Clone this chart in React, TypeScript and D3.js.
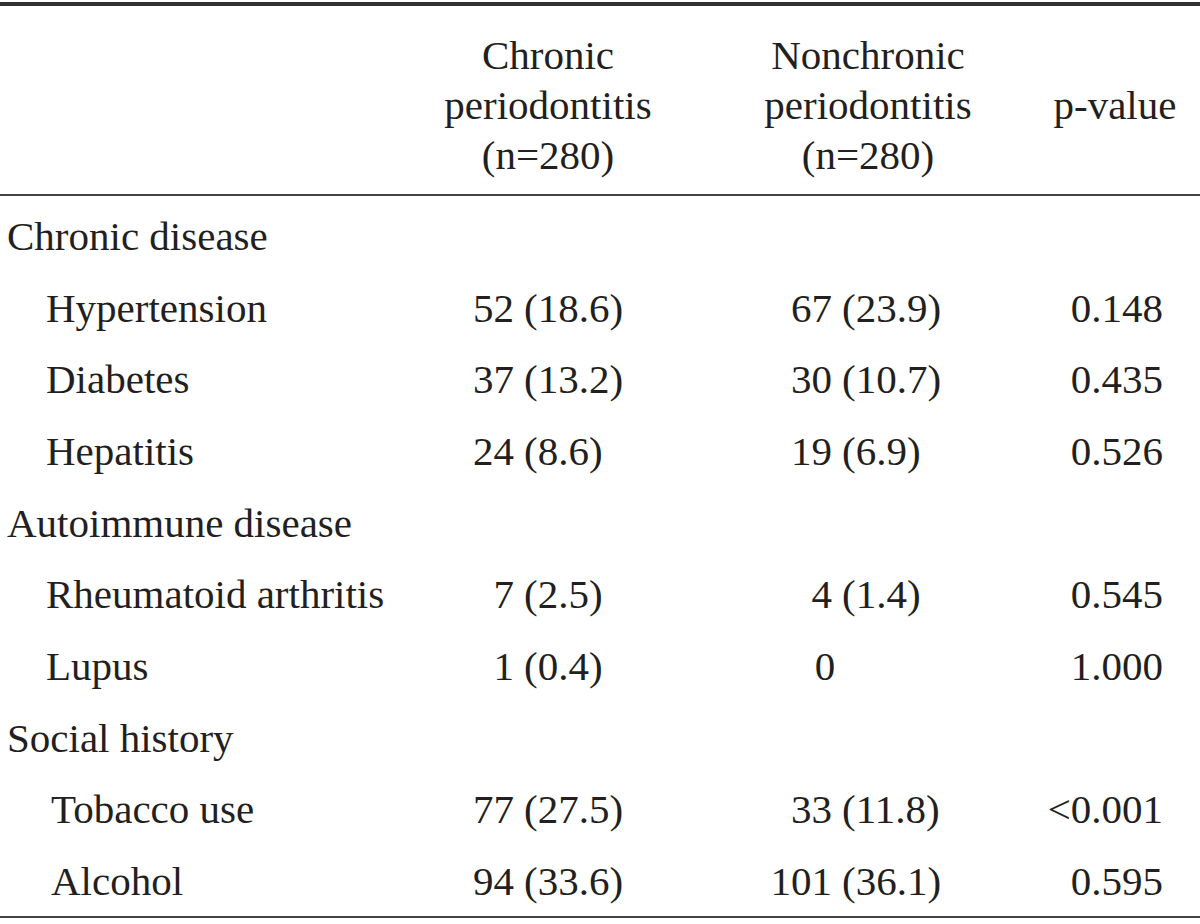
import React, { useEffect, useRef } from "react";
import * as d3 from "d3";

const headerCols = [
  ["Chronic", "periodontitis", "(n=280)"],
  ["Nonchronic", "periodontitis", "(n=280)"],
  ["p-value"],
];

const rowLabels = [
  "Chronic disease",
  "Hypertension",
  "Diabetes",
  "Hepatitis",
  "Autoimmune disease",
  "Rheumatoid arthritis",
  "Lupus",
  "Social history",
  "Tobacco use",
  "Alcohol",
];
const rowIsGroup = [true, false, false, false, true, false, false, true, false, false];
const rowIndent = [0, 1, 1, 1, 0, 1, 1, 0, 2, 2];

const chronicN = ["", "52", "37", "24", "", "7", "1", "", "77", "94"];
const chronicPct = ["", "(18.6)", "(13.2)", "(8.6)", "", "(2.5)", "(0.4)", "", "(27.5)", "(33.6)"];
const nonchronicN = ["", "67", "30", "19", "", "4", "0", "", "33", "101"];
const nonchronicPct = ["", "(23.9)", "(10.7)", "(6.9)", "", "(1.4)", "", "", "(11.8)", "(36.1)"];
const pValues = ["", "0.148", "0.435", "0.526", "", "0.545", "1.000", "", "<0.001", "0.595"];

const W = 1200;
const H = 924;
const FONT = "'Liberation Serif', 'Times New Roman', serif";
const INK = "#231f20";

export default function App() {
  const ref = useRef<SVGSVGElement | null>(null);

  useEffect(() => {
    const svg = d3.select(ref.current);
    svg.selectAll("*").remove();

    const y = d3.scaleLinear().domain([0, rowLabels.length - 1]).range([250, 895]);
    const hy = d3.scaleLinear().domain([0, 2]).range([69, 169]);
    const indentX = d3.scaleOrdinal<number, number>().domain([0, 1, 2]).range([7, 46, 51]);

    const g = svg.append("g").attr("font-family", FONT).attr("font-size", 41).attr("fill", INK);

    // rules
    svg.append("rect").attr("x", 0).attr("y", 2).attr("width", W).attr("height", 4).attr("fill", "#333");
    svg.append("rect").attr("x", 0).attr("y", 194).attr("width", W).attr("height", 2).attr("fill", "#444");
    svg.append("rect").attr("x", 0).attr("y", 916).attr("width", W).attr("height", 2).attr("fill", "#444");

    // headers
    const headerCx = [548, 868, 1115];
    headerCols.forEach((lines, ci) => {
      lines.forEach((t, li) => {
        const yy = lines.length === 1 ? hy(1) : hy(li);
        g.append("text")
          .attr("x", headerCx[ci])
          .attr("y", yy)
          .attr("text-anchor", "middle")
          .text(t);
      });
    });

    rowLabels.forEach((lab, i) => {
      g.append("text").attr("x", indentX(rowIndent[i])).attr("y", y(i)).text(lab);
      if (rowIsGroup[i]) return;
      // chronic
      g.append("text").attr("x", 514).attr("y", y(i)).attr("text-anchor", "end").text(chronicN[i]);
      g.append("text").attr("x", 524).attr("y", y(i)).text(chronicPct[i]);
      // nonchronic
      if (nonchronicPct[i]) {
        g.append("text").attr("x", 832).attr("y", y(i)).attr("text-anchor", "end").text(nonchronicN[i]);
        g.append("text").attr("x", 842).attr("y", y(i)).text(nonchronicPct[i]);
      } else {
        g.append("text").attr("x", 825).attr("y", y(i)).attr("text-anchor", "middle").text(nonchronicN[i]);
      }
      g.append("text").attr("x", 1163).attr("y", y(i)).attr("text-anchor", "end").text(pValues[i]);
    });
  }, []);

  return (
    <svg
      ref={ref}
      width={W}
      height={H}
      style={{ position: "absolute", left: 0, top: 0, background: "#fff" }}
    />
  );
}
